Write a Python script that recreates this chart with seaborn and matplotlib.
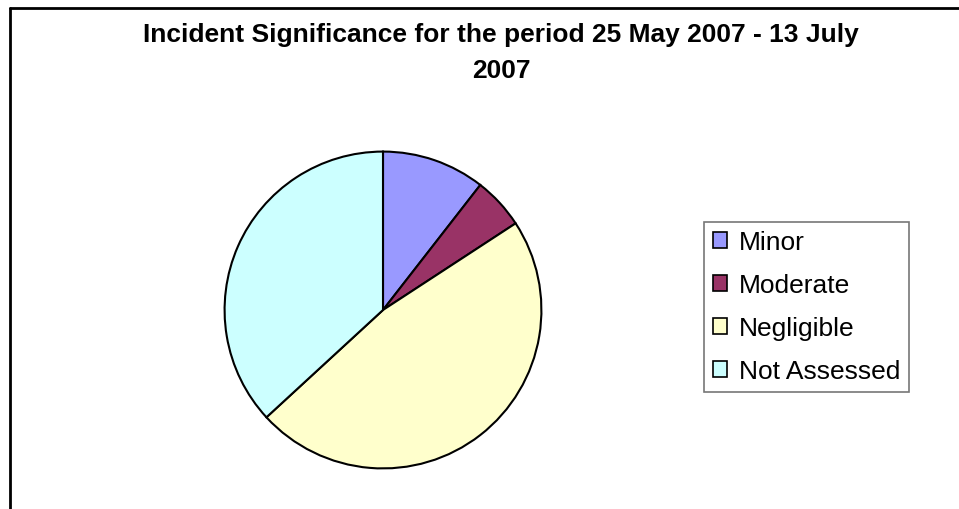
"""
Incident significance pie chart (25 May 2007 - 13 July 2007)
"""

import matplotlib
matplotlib.use("Agg")
import matplotlib.pyplot as plt
import seaborn as sns
from matplotlib.patches import Patch
from matplotlib.lines import Line2D


# --------------------------------------------------
# Data
# --------------------------------------------------
categories = ["Minor", "Moderate", "Negligible", "Not Assessed"]
counts = [2, 1, 9, 7]
colours = ["#9999FF", "#993366", "#FFFFCC", "#CCFFFF"]
title = "Incident Significance for the period 25 May 2007 - 13 July\n2007"

sns.set_theme(style="white")
plt.rcParams["font.family"] = ["Liberation Sans", "DejaVu Sans"]
plt.rcParams["text.color"] = "black"

W, H = 959, 509
fig = plt.figure(figsize=(W / 100, H / 100), dpi=100)
fig.patch.set_facecolor("white")

# chart frame (only left and top edges visible in the crop)
fig.add_artist(Line2D([9.5 / W, 9.5 / W], [0, 1 - 7.5 / H], transform=fig.transFigure,
                      color="black", lw=2))
fig.add_artist(Line2D([9.5 / W, 1], [1 - 7.5 / H, 1 - 7.5 / H], transform=fig.transFigure,
                      color="black", lw=2))

# --------------------------------------------------
# Pie
# --------------------------------------------------
cx, cy, r = 383, 310, 160
ax = fig.add_axes([(cx - r) / W, (H - cy - r) / H, 2 * r / W, 2 * r / H])
ax.pie(counts, colors=colours, startangle=90, counterclock=False, radius=1,
       wedgeprops=dict(edgecolor="black", linewidth=1.5))
ax.set_xlim(-1.01, 1.01)
ax.set_ylim(-1.01, 1.01)
ax.axis("off")

# --------------------------------------------------
# Title and legend
# --------------------------------------------------
fig.text(501 / W, 1 - 23 / H, title, ha="center", va="top", fontsize=19,
         fontweight="bold", linespacing=1.65, color="black")

handles = [Patch(facecolor=c, edgecolor="black", linewidth=1.2) for c in colours]
leg = fig.legend(handles, categories, loc="upper left",
                 bbox_to_anchor=(704 / W, 1 - 222 / H), fontsize=19,
                 frameon=True, fancybox=False, handlelength=0.55, handleheight=0.55,
                 handletextpad=0.45, labelspacing=0.72, borderpad=0.33,
                 borderaxespad=0)
for t in leg.get_texts():
    t.set_color("black")
leg.get_frame().set_edgecolor("#555555")
leg.get_frame().set_linewidth(1.2)

plt.savefig("out.png", dpi=100, facecolor="white")
plt.close()
